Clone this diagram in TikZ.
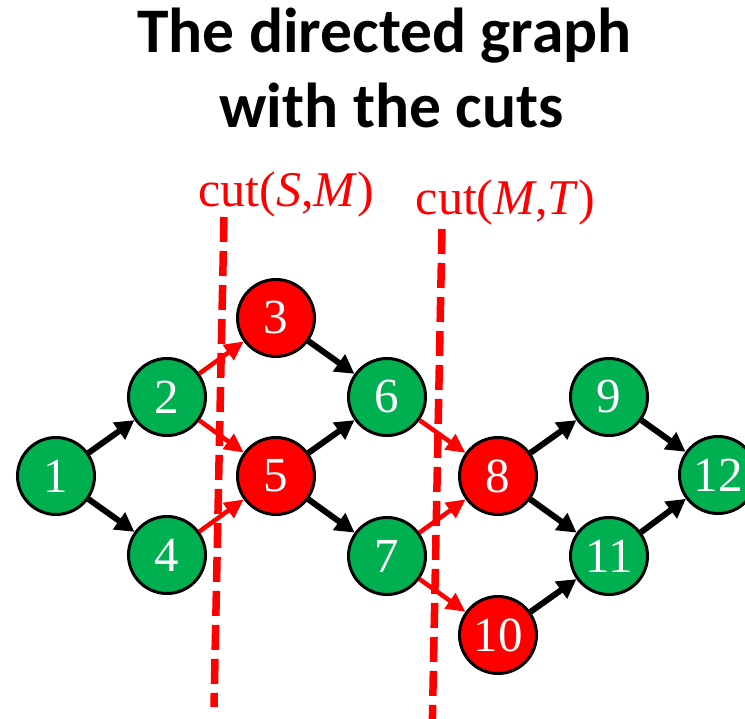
\documentclass[tikz,border=0pt]{standalone}
\usepackage{fontspec}
\setmainfont{Liberation Serif}
\newfontfamily\titlefont{Carlito}
\usetikzlibrary{arrows.meta}
\definecolor{pgreen}{HTML}{00B050}
\definecolor{pred}{HTML}{FF0000}
\begin{document}
\begin{tikzpicture}[x=1pt,y=-1pt,
  vert/.style={circle, draw=black, line width=3pt, minimum size=77pt, inner sep=0pt, text=white, font=\fontsize{49}{49}\selectfont},
  gnode/.style={vert, fill=pgreen},
  rnode/.style={vert, fill=pred},
  edge/.style={draw=black, line width=6pt, -{Triangle[length=19pt,width=20pt]}},
  cutedge/.style={draw=pred, line width=4.5pt, -{Triangle[length=19pt,width=18pt]}},
  cutline/.style={draw=pred, line width=7.5pt, dash pattern=on 25pt off 9pt},
  cutlabel/.style={text=pred, font=\fontsize{50}{50}\selectfont, anchor=base, inner sep=0pt},
  titletext/.style={font=\titlefont\bfseries\fontsize{63.5}{63.5}\selectfont, anchor=base, inner sep=0pt}]
\useasboundingbox (0,0) rectangle (745,719);
\clip (0,0) rectangle (745,719);

% title
\node[titletext] (t1) at (384.5,53) {The directed graph};
\node[titletext] (t2) at (391.5,128) {with the cuts};

% cut labels
\node[cutlabel] (l1) at (286.5,207) {cut(\textit{S},\textit{M})};
\node[cutlabel] (l2) at (505.5,215) {cut(\textit{M},\textit{T})};

% cut lines
\coordinate (c1a) at (224,217);
\coordinate (c1b) at (214,707);
\coordinate (c2a) at (442,229);
\coordinate (c2b) at (432,740);
\draw[cutline] (c1a) -- (c1b);
\draw[cutline] (c2a) -- (c2b);

% nodes
\node[gnode] (n1)  at (56,476)  {1};
\node[gnode] (n2)  at (167,397) {2};
\node[rnode] (n3)  at (276,318) {3};
\node[gnode] (n4)  at (167,555) {4};
\node[rnode] (n5)  at (276,476) {5};
\node[gnode] (n6)  at (387,397) {6};
\node[gnode] (n7)  at (387,556) {7};
\node[rnode] (n8)  at (498,476) {8};
\node[gnode] (n9)  at (609,397) {9};
\node[rnode] (n10) at (498,635) {10};
\node[gnode] (n11) at (609,556) {11};
\node[gnode] (n12) at (718,475) {12};

% edges
\draw[edge] (n1) -- (n2);
\draw[edge] (n1) -- (n4);
\draw[edge] (n3) -- (n6);
\draw[edge] (n5) -- (n6);
\draw[edge] (n5) -- (n7);
\draw[edge] (n8) -- (n9);
\draw[edge] (n8) -- (n11);
\draw[edge] (n9) -- (n12);
\draw[edge] (n10) -- (n11);
\draw[edge] (n11) -- (n12);

\draw[cutedge] (n2) -- (n3);
\draw[cutedge] (n2) -- (n5);
\draw[cutedge] (n4) -- (n5);
\draw[cutedge] (n6) -- (n8);
\draw[cutedge] (n7) -- (n8);
\draw[cutedge] (n7) -- (n10);
\end{tikzpicture}
\end{document}
